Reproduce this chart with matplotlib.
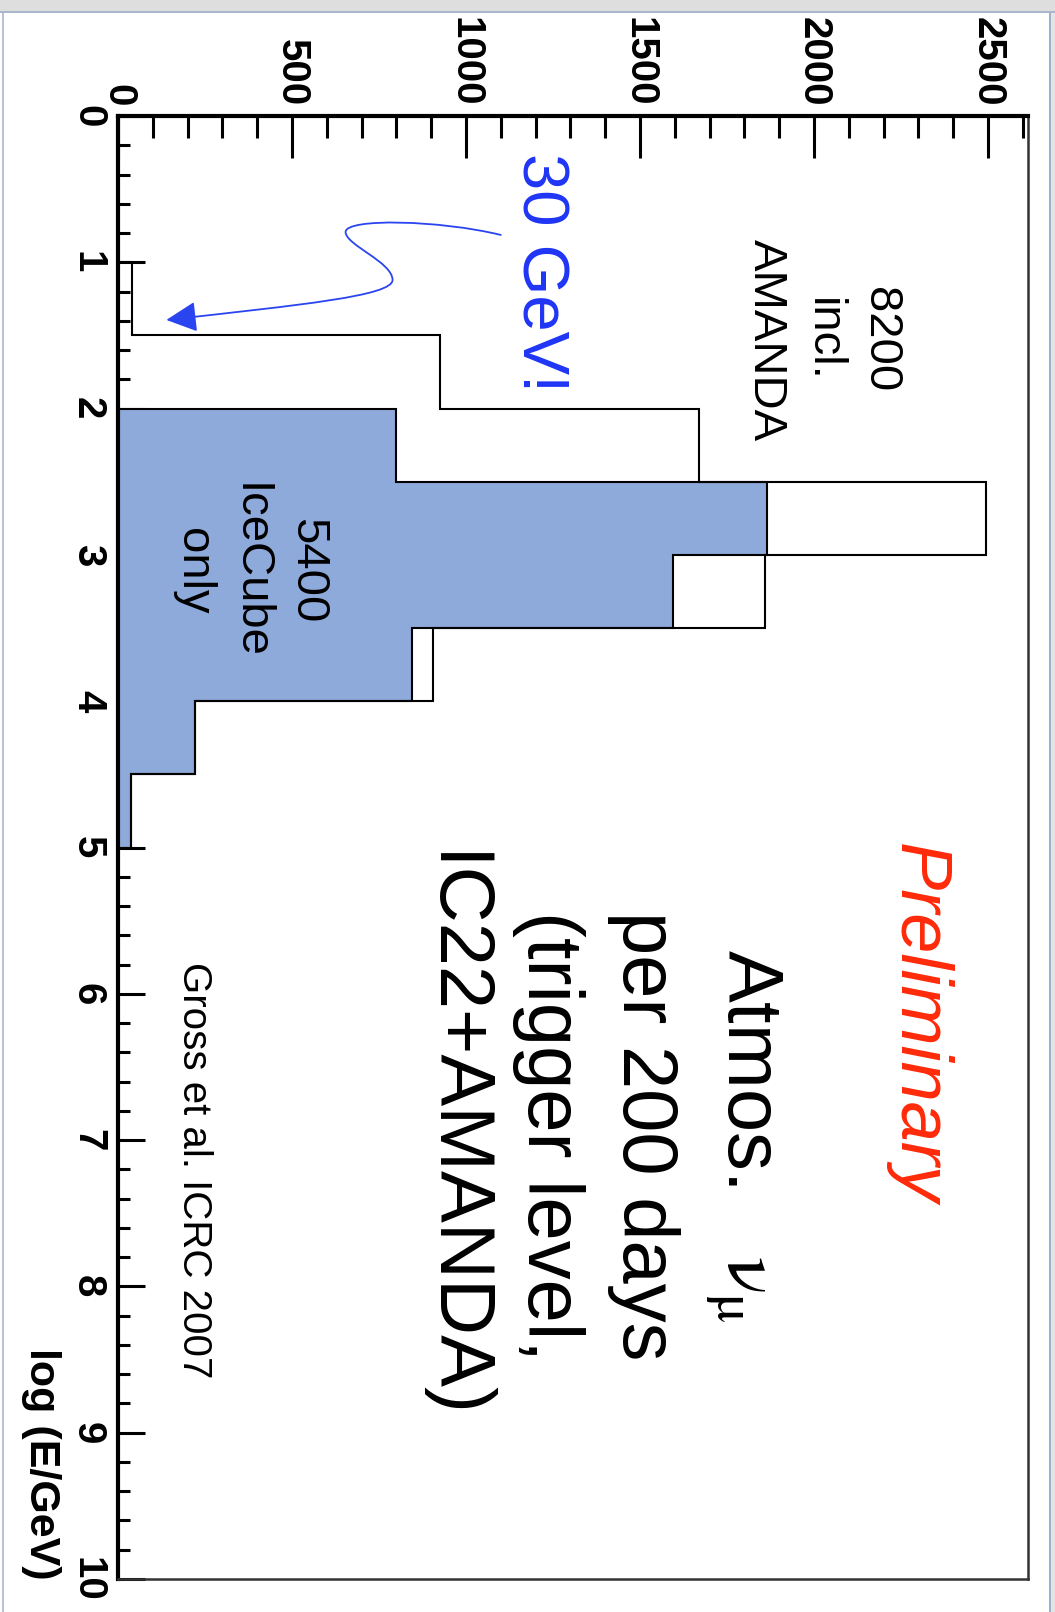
import matplotlib
matplotlib.use("Agg")
import matplotlib.pyplot as plt
import numpy as np
from matplotlib.path import Path
from matplotlib.patches import FancyArrowPatch, Rectangle

# ---- data -------------------------------------------------------------
# log10(E/GeV) bin edges and event counts per bin
edges_all = [1.0, 1.5, 2.0, 2.5, 3.0, 3.5, 4.0, 4.5, 5.0]
counts_all = [40, 925, 1670, 2495, 1860, 905, 220, 38]        # IC22 + AMANDA
edges_ic = [2.0, 2.5, 3.0, 3.5, 4.0, 4.5, 5.0]
counts_ic = [800, 1865, 1595, 845, 220, 38]                    # IceCube only

count_ticks = [0, 500, 1000, 1500, 2000, 2500]
count_ticklabels = ["0", "500", "1000", "1500", "2000", "2500"]
loge_ticks = list(range(0, 11))
loge_ticklabels = [str(v) for v in loge_ticks]

W, H = 1055, 1612
FONT = "Liberation Sans"
plt.rcParams["mathtext.fontset"] = "stix"


def fx(x):
    return x / W


def fy(y):
    return 1 - y / H


fig = plt.figure(figsize=(W / 100, H / 100), dpi=100)
fig.patch.set_facecolor("white")

# window frame around the plot
fig.patches.append(Rectangle((0, fy(12)), 1, 12 / H, transform=fig.transFigure,
                             facecolor="#dedede", edgecolor="none", zorder=0))
fig.patches.append(Rectangle((0, fy(13)), 1, 1.5 / H, transform=fig.transFigure,
                             facecolor="#a9b7cc", edgecolor="none", zorder=0))
fig.patches.append(Rectangle((fx(2), 0), 1.5 / W, fy(13), transform=fig.transFigure,
                             facecolor="#b5c3da", edgecolor="none", zorder=0))
fig.patches.append(Rectangle((fx(1049), 0), 2 / W, fy(13), transform=fig.transFigure,
                             facecolor="#9fb0cc", edgecolor="none", zorder=0))
fig.patches.append(Rectangle((fx(1051), 0), 4 / W, fy(13), transform=fig.transFigure,
                             facecolor="#e4e4e4", edgecolor="none", zorder=0))

left, right, top, bottom = 118, 1028, 116, 1579
ax = fig.add_axes([fx(left), fy(bottom), (right - left) / W, (bottom - top) / H])
ax.set_xlim(0, 2615)
ax.set_ylim(10, 0)

# histograms, drawn sideways (counts horizontal, energy vertical)
ax.stairs(counts_ic, edges_ic, orientation="horizontal", baseline=0, fill=True,
          facecolor="#8eaadb", edgecolor="none", zorder=2)
ax.stairs(counts_ic, edges_ic, orientation="horizontal", baseline=0, fill=False,
          edgecolor="black", linewidth=1.5, zorder=3)
ax.stairs(counts_all, edges_all, orientation="horizontal", baseline=0, fill=False,
          edgecolor="black", linewidth=1.5, zorder=3)

# axes styling
for side in ("left", "top"):
    ax.spines[side].set_linewidth(3.0)
    ax.spines[side].set_color("black")
for side in ("right", "bottom"):
    ax.spines[side].set_linewidth(1.8)
    ax.spines[side].set_color("#333333")

ax.xaxis.tick_top()
ax.set_xticks(count_ticks, count_ticklabels, rotation=-90, ha="center", va="bottom",
              fontsize=29, fontweight="bold", family=FONT)
ax.set_xticks(np.arange(0, 2601, 100), minor=True)
ax.set_yticks(loge_ticks, loge_ticklabels, rotation=-90, ha="right", va="center",
              fontsize=29, fontweight="bold", family=FONT)
ax.set_yticks(np.arange(0, 10.01, 0.2), minor=True)

ax.tick_params(axis="x", which="both", direction="in", top=True, bottom=False,
               labeltop=True, labelbottom=False, width=2.2, pad=7)
ax.tick_params(axis="x", which="major", length=30)
ax.tick_params(axis="x", which="minor", length=16)
ax.tick_params(axis="y", which="both", direction="in", left=True, right=False,
               width=2.2, pad=8)
ax.tick_params(axis="y", which="major", length=19.5)
ax.tick_params(axis="y", which="minor", length=8.5)

# axis title on the energy axis
fig.text(fx(41), fy(1580), "log (E/GeV)", rotation=-90, ha="center", va="bottom",
         fontsize=31, fontweight="bold", family=FONT)

# annotations
fig.text(fx(823), fy(340), "8200\nincl.\nAMANDA", rotation=-90, ha="center",
         va="center", multialignment="center", fontsize=34, family=FONT,
         linespacing=1.38, zorder=5)
fig.text(fx(250), fy(571), "5400\nIceCube\nonly", rotation=-90, ha="center",
         va="center", multialignment="center", fontsize=34, family=FONT,
         linespacing=1.38, zorder=5)
fig.text(fx(540), fy(273), "30 GeV!", rotation=-90, ha="center", va="center",
         fontsize=47, color="#1f35f5", family=FONT, zorder=5)
fig.text(fx(918), fy(1023), "Preliminary", rotation=-90, ha="center", va="center",
         fontsize=52, style="italic", color="#ff2a0a", family=FONT, zorder=5)
fig.text(fx(600), fy(1136),
         "Atmos.   $\\mathrm{\\nu_{\\mu}}$\nper 200 days\n(trigger level,\nIC22+AMANDA)",
         rotation=-90, ha="center", va="center", multialignment="center",
         fontsize=56, family=FONT, linespacing=1.39, zorder=5)
fig.text(fx(194), fy(1170), "Gross et al. ICRC 2007", rotation=-90, ha="center",
         va="center", fontsize=29, family=FONT, zorder=5)

# curly arrow from the "30 GeV!" note to the lowest-energy bin
verts = [(1100, 0.813),
         (925, 0.711), (654, 0.697), (654, 0.793),
         (654, 0.882), (789, 0.998), (789, 1.121),
         (789, 1.230), (522, 1.292), (139, 1.394)]
codes = [Path.MOVETO] + [Path.CURVE4] * 9
arrow = FancyArrowPatch(path=Path(verts, codes), arrowstyle="-|>,head_length=0.9,head_width=0.45",
                        mutation_scale=21, color="#2a45f0", linewidth=1.3,
                        transform=ax.transData, zorder=6)
ax.add_patch(arrow)

fig.savefig("out.png", dpi=100, facecolor="white")
